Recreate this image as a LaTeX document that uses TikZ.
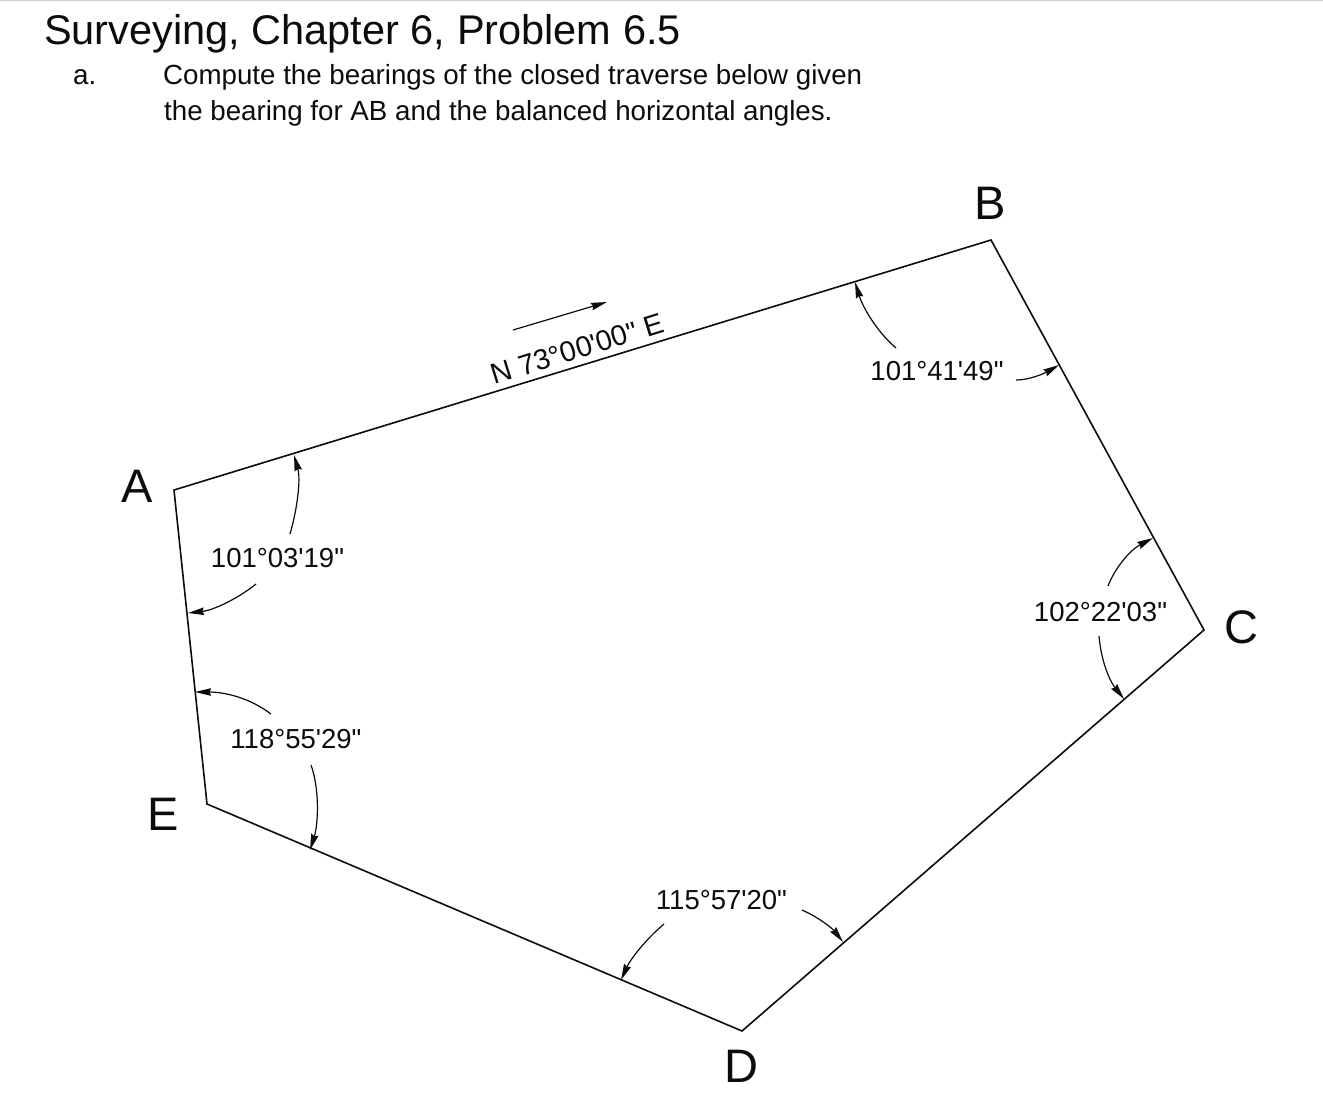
\documentclass[tikz,border=0pt]{standalone}
\usepackage{fontspec}
\setmainfont{Liberation Sans}
\newfontfamily\plainf{Liberation Sans}
\usetikzlibrary{arrows.meta}
\definecolor{ink}{HTML}{0C0C0C}
\tikzset{
  x=1pt,y=-1pt,
  trav/.style={draw=ink,line width=1.6pt,line join=miter},
  arc/.style={draw=ink,line width=1.2pt,-{Stealth[length=16pt,width=7.5pt,inset=1.5pt]}},
  ang/.style={font=\plainf\fontsize{27.5}{29}\selectfont,text=ink,inner sep=0pt},
  pt/.style={font=\fontsize{47}{50}\selectfont,text=ink,inner sep=0pt},
  txt/.style={text=ink,inner sep=0pt,anchor=base west}
}
\begin{document}
\begin{tikzpicture}
\useasboundingbox (0,0) rectangle (1323,1104);
\fill[white] (0,0) rectangle (1323,1104);
\draw[draw=black!20,line width=1pt] (0,0.5) -- (1323,0.5);
\node[txt,font=\fontsize{41.5}{44}\selectfont] (title) at (44,44) {Surveying, Chapter 6, Problem 6.5};
\node[txt,font=\fontsize{27.7}{30}\selectfont] (lbla) at (73,84) {a.};
\node[txt,font=\fontsize{27.7}{30}\selectfont] (l1) at (163,84) {Compute the bearings of the closed traverse below given};
\node[txt,font=\fontsize{27.7}{30}\selectfont] (l2) at (164,120) {the bearing for AB and the balanced horizontal angles.};
\coordinate (A) at (174,490);
\coordinate (B) at (991,240);
\coordinate (C) at (1204,630);
\coordinate (D) at (742,1031);
\coordinate (E) at (207,804);
\draw[trav] (A) -- (B) -- (C) -- (D) -- (E) -- cycle;
\node[pt] (nA) at (137,486) {A};
\node[pt] (nB) at (990,203) {B};
\node[pt] (nC) at (1241,627) {C};
\node[pt] (nD) at (741,1066) {D};
\node[pt] (nE) at (163,814) {E};
\node[ang] (a1) at (277.5,558) {101°03'19"};
\node[ang] (a2) at (937,371) {101°41'49"};
\node[ang] (a3) at (1100.5,612) {102°22'03"};
\node[ang] (a4) at (721.5,900) {115°57'20"};
\node[ang] (a5) at (296,739) {118°55'29"};
\node[ang,font=\plainf\fontsize{28.8}{30}\selectfont,rotate=17.2] (brg) at (577.5,349) {N 73°00'00" E};
\coordinate (s1) at (513,330);
\coordinate (t1) at (607,302);
\draw[arc] (s1) -- (t1);
% A
\coordinate (p1) at (290,534); \coordinate (q1) at (294,455);
\draw[arc] (p1) .. controls (297,510) and (301,480) .. (q1);
\coordinate (p2) at (256,584); \coordinate (q2) at (188,613);
\draw[arc] (p2) .. controls (240,597) and (215,610) .. (q2);
% B
\coordinate (p3) at (896,348); \coordinate (q3) at (855,282);
\draw[arc] (p3) .. controls (875,330) and (862,305) .. (q3);
\coordinate (p4) at (1016,380); \coordinate (q4) at (1059,365);
\draw[arc] (p4) .. controls (1030,380) and (1045,373) .. (q4);
% C
\coordinate (p5) at (1108,586); \coordinate (q5) at (1153,538);
\draw[arc] (p5) .. controls (1115,568) and (1130,550) .. (q5);
\coordinate (p6) at (1099,636); \coordinate (q6) at (1124,699);
\draw[arc] (p6) .. controls (1101,660) and (1109,680) .. (q6);
% D
\coordinate (p7) at (802,910); \coordinate (q7) at (843,942);
\draw[arc] (p7) .. controls (818,917) and (832,928) .. (q7);
\coordinate (p8) at (664,924); \coordinate (q8) at (621,980);
\draw[arc] (p8) .. controls (645,940) and (630,960) .. (q8);
% E
\coordinate (p9) at (271,714); \coordinate (q9) at (195,692);
\draw[arc] (p9) .. controls (250,698) and (225,692) .. (q9);
\coordinate (p10) at (311,765); \coordinate (q10) at (310,850);
\draw[arc] (p10) .. controls (320,790) and (318,825) .. (q10);
\end{tikzpicture}
\end{document}
